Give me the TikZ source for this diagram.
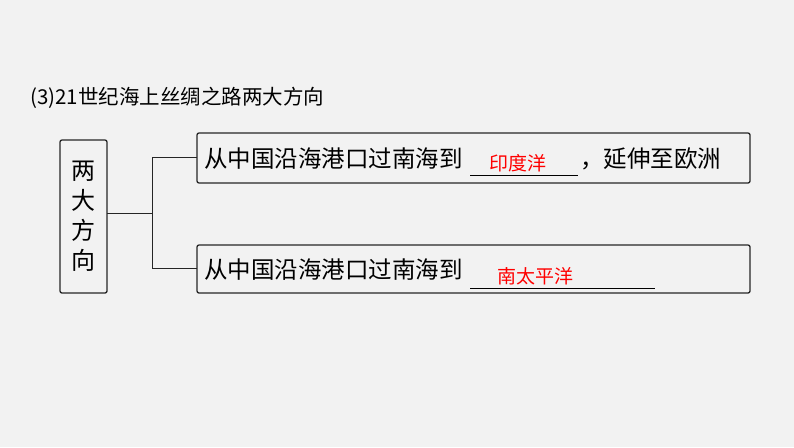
\documentclass[tikz,border=0pt]{standalone}
\usepackage{fontspec}
\setmainfont{Noto Sans CJK SC}
\begin{document}
\begin{tikzpicture}[x=1pt,y=-1pt,
  box/.style={draw=black!85,line width=1.3pt,rounded corners=2pt},
  txt/.style={font=\fontsize{23.5}{23.5}\selectfont,anchor=west,inner sep=0pt},
  ans/.style={font=\fontsize{19}{19}\selectfont,text=red,inner sep=0pt},
  con/.style={draw=black!85,line width=1pt}]
\fill[gray!10] (0,0) rectangle (794,447);
\useasboundingbox (0,0) rectangle (794,447);
\node[font=\fontsize{20.5}{20.5}\selectfont,anchor=west,inner sep=0pt] (title) at (30,98) {(3)21世纪海上丝绸之路两大方向};
\draw[box] (60,140) rectangle (107,293);
\node[font=\fontsize{24}{30}\selectfont,align=center,inner sep=0pt] (left) at (83.5,216) {两\\大\\方\\向};
\coordinate (lb) at (107,213);
\draw[box] (197,133) rectangle (750,183);
\draw[box] (197,245) rectangle (750,293);
\coordinate (b1) at (197,157);
\coordinate (b2) at (197,268);
\draw[con] (lb) -- (152,213) (152,157) -- (b1) (152,157) -- (152,268) -- (b2);
\node[txt] (t1) at (204,159) {从中国沿海港口过南海到};
\node[txt] (t1b) at (580,159) {，延伸至欧洲};
\draw[line width=1pt] (470,175) -- (578,175);
\node[ans] (a1) at (518,163) {印度洋};
\node[txt] (t2) at (204,270) {从中国沿海港口过南海到};
\draw[line width=1pt] (470,288) -- (655,288);
\node[ans] (a2) at (535,276) {南太平洋};
\end{tikzpicture}
\end{document}
